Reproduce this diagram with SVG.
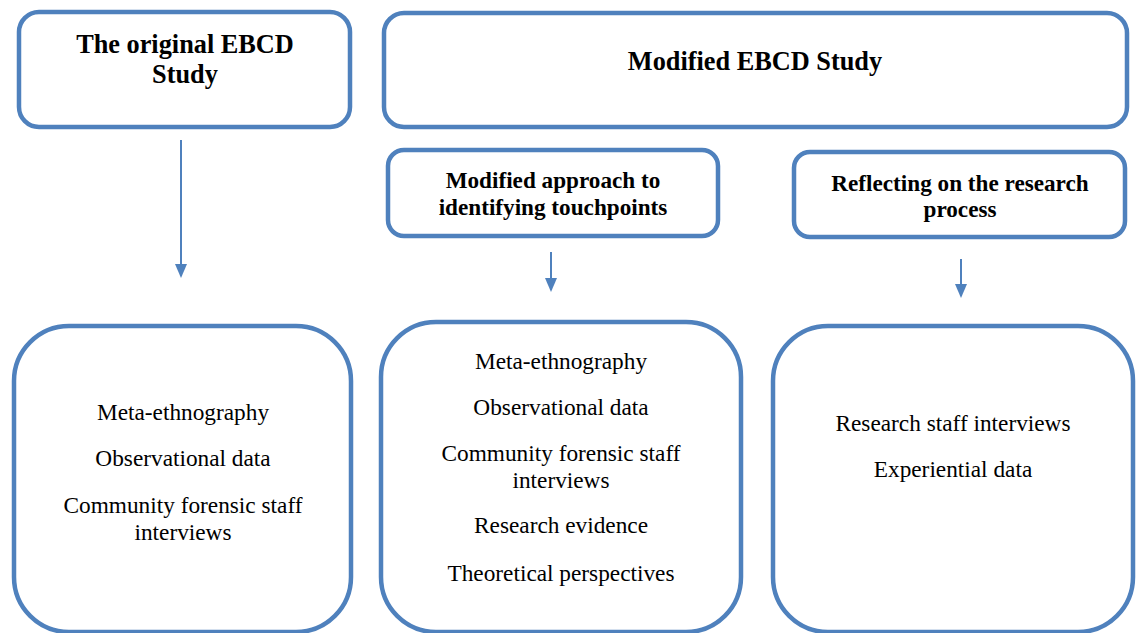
<svg xmlns="http://www.w3.org/2000/svg" width="1139" height="633" viewBox="0 0 1139 633">
<defs>
<style>
.box{fill:#fff;stroke:#4F81BD;stroke-width:4.5}
.t{font-family:"Liberation Serif","Times New Roman",serif;fill:#000;text-anchor:middle}
.h{font-weight:bold;font-size:26.3px}
.s{font-weight:bold;font-size:23.2px}
.b{font-size:23.3px}
.c{stroke:#4F81BD;stroke-width:2;fill:none}
.hd{fill:#4F81BD}
</style>
</defs>
<rect width="1139" height="633" fill="#fff"/>
<g id="orig">
<rect class="box" x="19" y="12" width="331" height="115" rx="20"/>
<text class="t h" x="185" y="53">The original EBCD</text>
<text class="t h" x="185" y="83">Study</text>
</g>
<g id="modified">
<rect class="box" x="384" y="13" width="743" height="114" rx="20"/>
<text class="t h" x="755" y="70">Modified EBCD Study</text>
</g>
<g id="approach">
<rect class="box" x="388" y="150" width="330" height="86" rx="16"/>
<text class="t s" x="553" y="188">Modified approach to</text>
<text class="t s" x="553" y="215">identifying touchpoints</text>
</g>
<g id="reflect">
<rect class="box" x="794" y="152" width="331" height="85" rx="16"/>
<text class="t s" x="960" y="191">Reflecting on the research</text>
<text class="t s" x="960" y="217">process</text>
</g>
<g id="orig-data">
<rect class="box" x="14" y="326" width="337" height="306" rx="55"/>
<text class="t b" x="183" y="420">Meta-ethnography</text>
<text class="t b" x="183" y="466">Observational data</text>
<text class="t b" x="183" y="513">Community forensic staff</text>
<text class="t b" x="183" y="540">interviews</text>
</g>
<g id="approach-data">
<rect class="box" x="381" y="322" width="360" height="310" rx="55"/>
<text class="t b" x="561" y="369">Meta-ethnography</text>
<text class="t b" x="561" y="415">Observational data</text>
<text class="t b" x="561" y="461">Community forensic staff</text>
<text class="t b" x="561" y="488">interviews</text>
<text class="t b" x="561" y="533">Research evidence</text>
<text class="t b" x="561" y="581">Theoretical perspectives</text>
</g>
<g id="reflect-data">
<rect class="box" x="773" y="326" width="360" height="306" rx="55"/>
<text class="t b" x="953" y="431">Research staff interviews</text>
<text class="t b" x="953" y="477">Experiential data</text>
</g>
<g id="connectors">
<line class="c" x1="181" y1="140" x2="181" y2="265"/>
<path class="hd" d="M175,264 L187,264 L181,278 Z"/>
<line class="c" x1="551" y1="252" x2="551" y2="279"/>
<path class="hd" d="M545,278 L557,278 L551,292 Z"/>
<line class="c" x1="961" y1="259" x2="961" y2="285"/>
<path class="hd" d="M955,284 L967,284 L961,298 Z"/>
</g>
</svg>
